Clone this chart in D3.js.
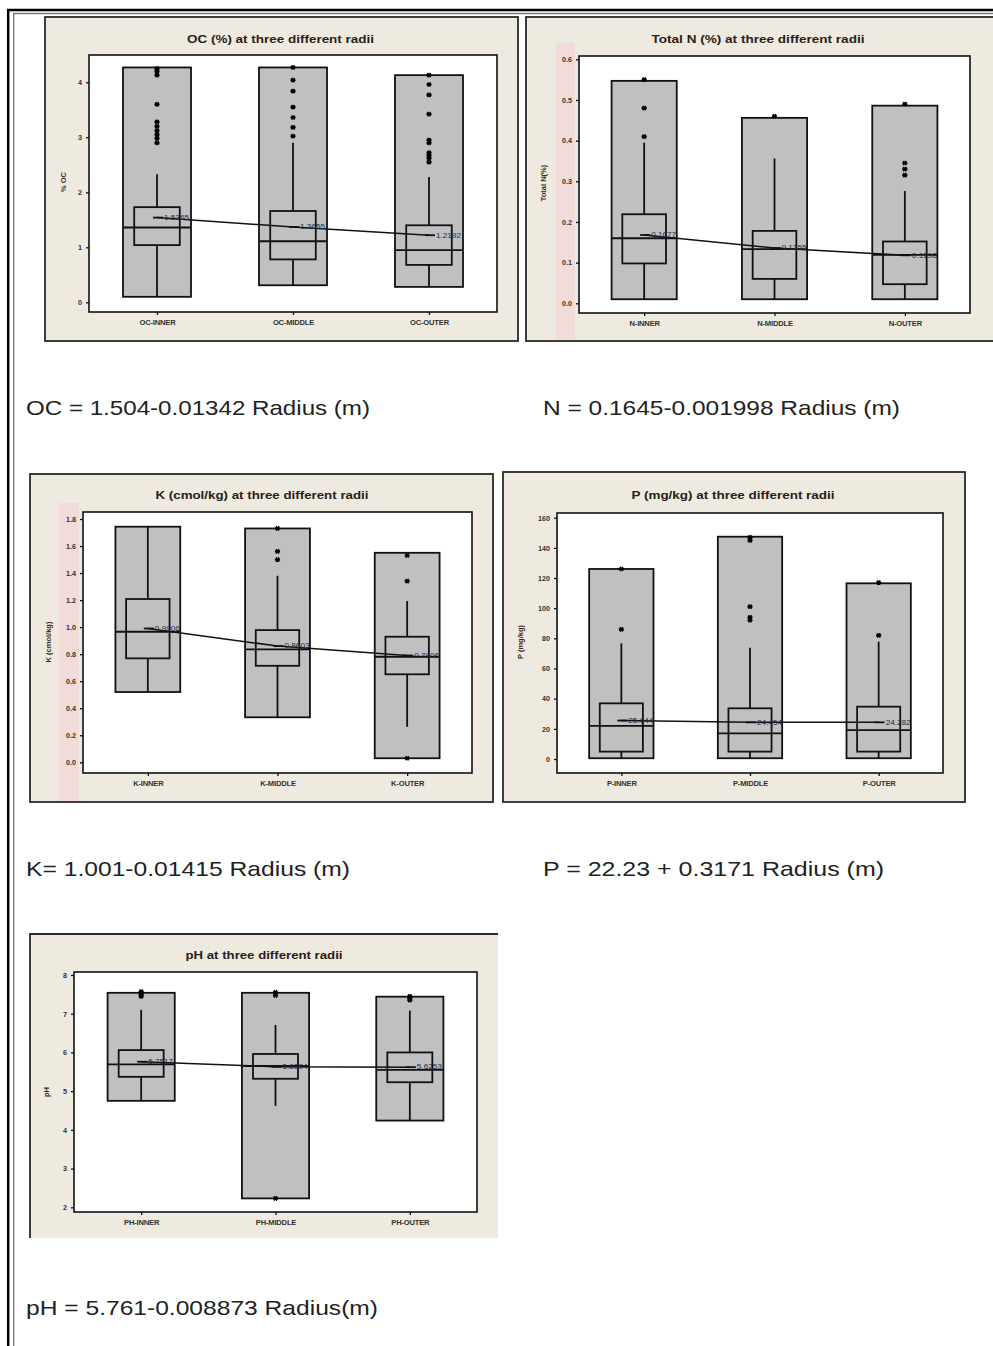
<!DOCTYPE html>
<html><head><meta charset="utf-8">
<script src="https://cdn.jsdelivr.net/npm/d3@7"></script>
<style>body{margin:0;background:#fff;} svg{display:block}</style>
</head><body>
<svg id="c" width="993" height="1346"></svg>
<script>
// ---------------- DATA ----------------
// OC (%)
const ocCategories = ["OC-INNER", "OC-MIDDLE", "OC-OUTER"];
const ocMin = [0.10, 0.31, 0.28];
const ocMax = [4.27, 4.27, 4.13];
const ocQ1 = [1.04, 0.78, 0.68];
const ocMedian = [1.36, 1.11, 0.95];
const ocQ3 = [1.73, 1.66, 1.40];
const ocWhiskerLow = [0.10, 0.31, 0.28];
const ocWhiskerHigh = [2.33, 2.90, 2.28];
const ocMean = [1.54, 1.37, 1.22];
const ocMeanLabels = ["1.5365", "1.3655", "1.2192"];
const ocOutliers = [[4.25, 4.20, 4.13, 3.60, 3.28, 3.20, 3.12, 3.05, 2.98, 2.90],
                    [4.27, 4.04, 3.84, 3.55, 3.36, 3.18, 3.02],
                    [4.13, 3.96, 3.77, 3.42, 2.95, 2.90, 2.72, 2.67, 2.62, 2.55]];
const ocTicks = [0, 1, 2, 3, 4];
const ocTickLabels = ["0", "1", "2", "3", "4"];

// Total N (%)
const nCategories = ["N-INNER", "N-MIDDLE", "N-OUTER"];
const nMin = [0.01, 0.01, 0.01];
const nMax = [0.547, 0.456, 0.486];
const nQ1 = [0.098, 0.060, 0.047];
const nMedian = [0.160, 0.133, 0.119];
const nQ3 = [0.219, 0.178, 0.152];
const nWhiskerLow = [0.01, 0.01, 0.01];
const nWhiskerHigh = [0.395, 0.356, 0.276];
const nMean = [0.168, 0.136, 0.118];
const nMeanLabels = ["0.1677", "0.1355", "0.1198"];
const nOutliers = [[0.55, 0.48, 0.41], [0.46], [0.49, 0.345, 0.33, 0.315]];
const nTicks = [0, 0.1, 0.2, 0.3, 0.4, 0.5, 0.6];
const nTickLabels = ["0.0", "0.1", "0.2", "0.3", "0.4", "0.5", "0.6"];

// K (cmol/kg)
const kCategories = ["K-INNER", "K-MIDDLE", "K-OUTER"];
const kMin = [0.52, 0.333, 0.03];
const kMax = [1.743, 1.73, 1.55];
const kQ1 = [0.769, 0.714, 0.651];
const kMedian = [0.966, 0.836, 0.781];
const kQ3 = [1.208, 0.978, 0.929];
const kWhiskerLow = [0.52, 0.333, 0.263];
const kWhiskerHigh = [1.743, 1.38, 1.193];
const kMean = [0.99, 0.86, 0.79];
const kMeanLabels = ["0.9906", "0.8603", "0.7906"];
const kOutliers = [[], [1.73, 1.56, 1.50], [1.53, 1.34, 0.03]];
const kTicks = [0, 0.2, 0.4, 0.6, 0.8, 1.0, 1.2, 1.4, 1.6, 1.8];
const kTickLabels = ["0.0", "0.2", "0.4", "0.6", "0.8", "1.0", "1.2", "1.4", "1.6", "1.8"];

// P (mg/kg)
const pCategories = ["P-INNER", "P-MIDDLE", "P-OUTER"];
const pMin = [0.5, 0.5, 0.5];
const pMax = [126, 147.4, 116.5];
const pQ1 = [4.9, 4.9, 4.9];
const pMedian = [21.9, 17.0, 19.2];
const pQ3 = [36.9, 33.6, 34.7];
const pWhiskerLow = [0.5, 0.5, 0.5];
const pWhiskerHigh = [76.7, 73.8, 77.8];
const pMean = [25.5, 24.3, 24.3];
const pMeanLabels = ["25.644", "24.454", "24.282"];
const pOutliers = [[126, 86], [147, 145, 101, 94, 92], [117, 82]];
const pTicks = [0, 20, 40, 60, 80, 100, 120, 140, 160];
const pTickLabels = ["0", "20", "40", "60", "80", "100", "120", "140", "160"];

// pH
const phCategories = ["PH-INNER", "PH-MIDDLE", "PH-OUTER"];
const phMin = [4.75, 2.23, 4.24];
const phMax = [7.54, 7.54, 7.44];
const phQ1 = [5.37, 5.32, 5.23];
const phMedian = [5.69, 5.65, 5.55];
const phQ3 = [6.06, 5.96, 6.00];
const phWhiskerLow = [4.75, 4.62, 4.24];
const phWhiskerHigh = [7.10, 6.71, 7.08];
const phMean = [5.76, 5.63, 5.62];
const phMeanLabels = ["5.7517", "5.6394", "5.6253"];
const phOutliers = [[7.57, 7.50, 7.45], [7.55, 7.47, 2.23], [7.45, 7.40, 7.35]];
const phTicks = [2, 3, 4, 5, 6, 7, 8];
const phTickLabels = ["2", "3", "4", "5", "6", "7", "8"];

// Titles, axis labels, equations
const titles = ["OC (%) at three different radii", "Total N (%) at three different radii",
                "K (cmol/kg) at three different radii", "P (mg/kg) at three different radii",
                "pH at three different radii"];
const yLabels = ["% OC", "Total N(%)", "K (cmol/kg)", "P (mg/kg)", "pH"];
const equations = ["OC = 1.504-0.01342 Radius (m)", "N = 0.1645-0.001998 Radius (m)",
                   "K= 1.001-0.01415 Radius (m)", "P = 22.23 + 0.3171 Radius (m)",
                   "pH = 5.761-0.008873 Radius(m)"];

// ---------------- LAYOUT ----------------
const layouts = [
  {frame:[45,17,518,341], pink:null, plot:[89,55,497,312], yr:[302.3,82.3], title:[280.5,43,187], ylab:[66,182], eq:[26,415,344], fullBorder:true},
  {frame:[526,17,1000,341], pink:[556,43,575,340], plot:[579,56,970,313], yr:[303.3,59.3], title:[758,43,213], ylab:[546,183], eq:[543,415,357], fullBorder:true},
  {frame:[30,474,493,802], pink:[58,503,79,801], plot:[83,512,472,773], yr:[762.3,519], title:[262,499,213], ylab:[51,642], eq:[26,876,324], fullBorder:true},
  {frame:[503,472,965,802], pink:null, plot:[557,513,943,773], yr:[759,517.7], title:[733,499,203], ylab:[523,642], eq:[543,876,341], fullBorder:true},
  {frame:[30,934,498,1238], pink:null, plot:[74,972,477,1212], yr:[1207.3,975], title:[264,959,157], ylab:[49,1092], eq:[26,1315,352], fullBorder:false}
];

const datasets = [
  {cats:ocCategories, min:ocMin, max:ocMax, q1:ocQ1, med:ocMedian, q3:ocQ3, wl:ocWhiskerLow, wh:ocWhiskerHigh, mean:ocMean, ml:ocMeanLabels, out:ocOutliers, ticks:ocTicks, tl:ocTickLabels},
  {cats:nCategories, min:nMin, max:nMax, q1:nQ1, med:nMedian, q3:nQ3, wl:nWhiskerLow, wh:nWhiskerHigh, mean:nMean, ml:nMeanLabels, out:nOutliers, ticks:nTicks, tl:nTickLabels},
  {cats:kCategories, min:kMin, max:kMax, q1:kQ1, med:kMedian, q3:kQ3, wl:kWhiskerLow, wh:kWhiskerHigh, mean:kMean, ml:kMeanLabels, out:kOutliers, ticks:kTicks, tl:kTickLabels},
  {cats:pCategories, min:pMin, max:pMax, q1:pQ1, med:pMedian, q3:pQ3, wl:pWhiskerLow, wh:pWhiskerHigh, mean:pMean, ml:pMeanLabels, out:pOutliers, ticks:pTicks, tl:pTickLabels},
  {cats:phCategories, min:phMin, max:phMax, q1:phQ1, med:phMedian, q3:phQ3, wl:phWhiskerLow, wh:phWhiskerHigh, mean:phMean, ml:phMeanLabels, out:phOutliers, ticks:phTicks, tl:phTickLabels}
];

const svg = d3.select("#c");
const FONT = "'Liberation Sans', Arial, sans-serif";
const SW = 1.8;

// page border
svg.append("line").attr("x1",7).attr("x2",993).attr("y1",10).attr("y2",10).attr("stroke","#000").attr("stroke-width",2.5);
svg.append("line").attr("x1",13).attr("x2",993).attr("y1",13.5).attr("y2",13.5).attr("stroke","#777").attr("stroke-width",1.3);
svg.append("line").attr("x1",8.2).attr("x2",8.2).attr("y1",9).attr("y2",1346).attr("stroke","#000").attr("stroke-width",2.5);
svg.append("line").attr("x1",13.7).attr("x2",13.7).attr("y1",13).attr("y2",1346).attr("stroke","#777").attr("stroke-width",1.3);

function outlierPath(cx, cy) {
  const r = 2.6;
  return `M${cx-r},${cy}L${cx+r},${cy}M${cx-r*0.6},${cy-r*0.8}L${cx+r*0.6},${cy+r*0.8}M${cx+r*0.6},${cy-r*0.8}L${cx-r*0.6},${cy+r*0.8}`;
}

layouts.forEach((L, k) => {
  const D = datasets[k];
  const g = svg.append("g");
  const [fx0, fy0, fx1, fy1] = L.frame;
  g.append("rect").attr("x",fx0).attr("y",fy0).attr("width",fx1-fx0).attr("height",fy1-fy0)
    .attr("fill","#EEEAE0").attr("stroke", L.fullBorder ? "#2a2a2a" : "none").attr("stroke-width",1.8);
  if (!L.fullBorder) {
    g.append("path").attr("d",`M${fx0},${fy1}L${fx0},${fy0}L${fx1},${fy0}`).attr("fill","none").attr("stroke","#2a2a2a").attr("stroke-width",1.8);
  }
  if (L.pink) {
    g.append("rect").attr("x",L.pink[0]).attr("y",L.pink[1]).attr("width",L.pink[2]-L.pink[0]).attr("height",L.pink[3]-L.pink[1]).attr("fill","#F1DCDA");
  }
  const [px0, py0, px1, py1] = L.plot;
  g.append("rect").attr("x",px0).attr("y",py0).attr("width",px1-px0).attr("height",py1-py0)
    .attr("fill","#fff").attr("stroke","#111").attr("stroke-width",1.6);

  const y = d3.scaleLinear().domain([D.ticks[0], D.ticks[D.ticks.length-1]]).range(L.yr);
  const x = d3.scalePoint().domain(D.cats).range([px0, px1]).padding(0.5);
  const step = x.step();
  const rw = step * 0.5, bw = step * 0.335;

  // axes
  const ya = g.append("g").attr("transform",`translate(${px0},0)`)
    .call(d3.axisLeft(y).tickValues(D.ticks).tickSize(3).tickPadding(4).tickFormat((d,i)=>D.tl[i]));
  ya.select(".domain").remove();
  ya.selectAll("text").attr("font-family",FONT).attr("font-weight","bold").attr("font-size",7.2).attr("fill","#333");
  ya.selectAll("line").attr("stroke","#111").attr("stroke-width",1.3);
  const xa = g.append("g").attr("transform",`translate(0,${py1})`)
    .call(d3.axisBottom(x).tickSize(3).tickPadding(5));
  xa.select(".domain").remove();
  xa.selectAll("text").attr("font-family",FONT).attr("font-weight","bold").attr("font-size",7.6).attr("fill","#333").attr("letter-spacing",-0.2);
  xa.selectAll("line").attr("stroke","#111").attr("stroke-width",1.3);

  // title
  g.append("text").attr("x",L.title[0]).attr("y",L.title[1]).attr("text-anchor","middle")
    .attr("font-family",FONT).attr("font-weight","bold").attr("font-size",10).attr("fill","#2a2018")
    .attr("textLength",L.title[2]).attr("lengthAdjust","spacingAndGlyphs").text(titles[k]);
  // y label
  g.append("text").attr("transform",`translate(${L.ylab[0]},${L.ylab[1]}) rotate(-90)`).attr("text-anchor","middle")
    .attr("font-family",FONT).attr("font-weight","bold").attr("font-size",7.5).attr("fill","#3a2a1a").text(yLabels[k]);

  // boxes
  D.cats.forEach((c, i) => {
    const cx = x(c);
    g.append("rect").attr("x",cx-rw/2).attr("y",y(D.max[i])).attr("width",rw).attr("height",y(D.min[i])-y(D.max[i]))
      .attr("fill","#C0C0C0").attr("stroke","#111").attr("stroke-width",SW);
    g.append("line").attr("x1",cx).attr("x2",cx).attr("y1",y(D.wl[i])).attr("y2",y(D.q1[i])).attr("stroke","#111").attr("stroke-width",SW);
    g.append("line").attr("x1",cx).attr("x2",cx).attr("y1",y(D.q3[i])).attr("y2",y(D.wh[i])).attr("stroke","#111").attr("stroke-width",SW);
    g.append("rect").attr("x",cx-bw/2).attr("y",y(D.q3[i])).attr("width",bw).attr("height",y(D.q1[i])-y(D.q3[i]))
      .attr("fill","none").attr("stroke","#111").attr("stroke-width",SW);
    g.append("line").attr("x1",cx-rw/2).attr("x2",cx+rw/2).attr("y1",y(D.med[i])).attr("y2",y(D.med[i])).attr("stroke","#111").attr("stroke-width",SW);
    D.out[i].forEach(v => {
      g.append("path").attr("d",outlierPath(cx, y(v))).attr("stroke","#000").attr("stroke-width",1.7).attr("fill","none");
    });
  });

  // mean connect line
  const line = d3.line().x((d,i)=>x(D.cats[i])).y(d=>y(d));
  g.append("path").attr("d",line(D.mean)).attr("fill","none").attr("stroke","#111").attr("stroke-width",1.5);
  D.cats.forEach((c,i) => {
    g.append("line").attr("x1",x(c)-4).attr("x2",x(c)+6).attr("y1",y(D.mean[i])).attr("y2",y(D.mean[i])).attr("stroke","#111").attr("stroke-width",1.8);
    g.append("text").attr("x",x(c)+7).attr("y",y(D.mean[i])+2.3).attr("font-family",FONT).attr("font-size",6.5)
      .attr("fill","#1c2a48").attr("textLength",25).attr("lengthAdjust","spacingAndGlyphs").text(D.ml[i]);
  });

  // equation
  svg.append("text").attr("x",L.eq[0]).attr("y",L.eq[1]).attr("font-family",FONT).attr("font-size",21)
    .attr("fill","#222").attr("textLength",L.eq[2]).attr("lengthAdjust","spacingAndGlyphs").text(equations[k]);
});
</script>
</body></html>
